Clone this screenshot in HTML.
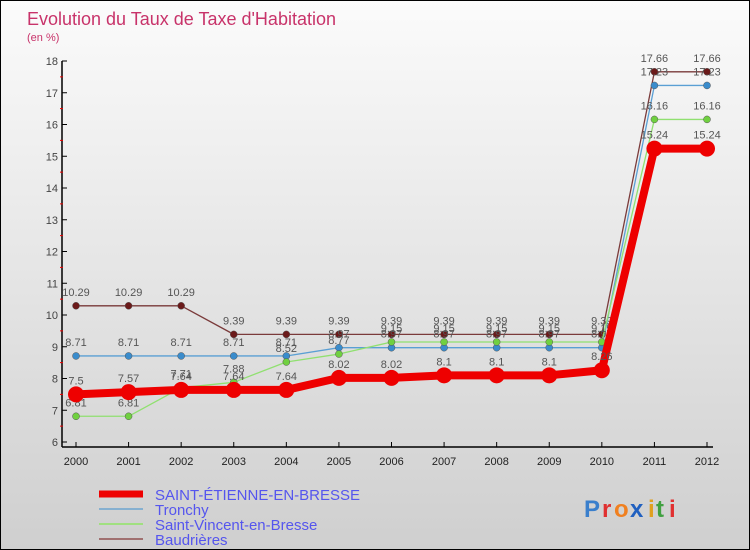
<!DOCTYPE html>
<html><head><meta charset="utf-8"><style>
body{margin:0}
#c{width:750px;height:550px;position:relative;overflow:hidden;box-sizing:border-box;border:1px solid #000;background:linear-gradient(#fbfbfb,#cfcfcf);font-family:"Liberation Sans",sans-serif}
</style></head><body>
<div id="c">
<svg id="s" width="750" height="550" style="position:absolute;left:0;top:0"></svg>
</div>
<script>
const years=["2000","2001","2002","2003","2004","2005","2006","2007","2008","2009","2010","2011","2012"];
const yTicks=[6,7,8,9,10,11,12,13,14,15,16,17,18];
const saint=[7.5,7.57,7.64,7.64,7.64,8.02,8.02,8.1,8.1,8.1,8.26,15.24,15.24];
const tronchy=[8.71,8.71,8.71,8.71,8.71,8.97,8.97,8.97,8.97,8.97,8.97,17.23,17.23];
const svincent=[6.81,6.81,7.71,7.88,8.52,8.77,9.15,9.15,9.15,9.15,9.15,16.16,16.16];
const baud=[10.29,10.29,10.29,9.39,9.39,9.39,9.39,9.39,9.39,9.39,9.39,17.66,17.66];
const s=document.getElementById('s');const NS='http://www.w3.org/2000/svg';
function X(i){return 75+i*(706-75)/(years.length-1);}
function Y(v){return 441-(v-6)*(441-60)/12;}
function el(t,a,p){const e=document.createElementNS(NS,t);for(const k in a)e.setAttribute(k,a[k]);(p||s).appendChild(e);return e;}
function tx(x,y,str,a,p){const e=el('text',Object.assign({x:x,y:y},a),p);e.textContent=str;return e;}
const t1=tx(26,24,"Evolution du Taux de Taxe d'Habitation",{fill:'#c8336a','font-size':18});


const t2=tx(26,40,"(en %)",{fill:'#c8336a','font-size':11});


const ax=el('g',{});


el('line',{x1:61,y1:60,x2:61,y2:446,stroke:'#000','stroke-width':1.5},ax);
el('line',{x1:61,y1:446,x2:712,y2:446,stroke:'#000','stroke-width':1.5},ax);
yTicks.forEach(v=>{el('line',{x1:61,y1:Y(v),x2:66,y2:Y(v),stroke:'#000'},ax);
if(v<18)el('line',{x1:59,y1:Y(v+0.5),x2:62,y2:Y(v+0.5),stroke:'#e00'},ax);
const t=tx(57,Y(v)+4,String(v),{fill:'#444','font-size':11,'text-anchor':'end'},ax);

});
years.forEach((y,i)=>{el('line',{x1:X(i),y1:441,x2:X(i),y2:446,stroke:'#000'},ax);
const t=tx(X(i),464,y,{fill:'#222','font-size':11,'text-anchor':'middle'},ax);

});
function series(d,col,w,r,fill,name){const g=el('g',{});


el('polyline',{points:d.map((v,i)=>X(i)+','+Y(v)).join(' '),fill:'none',stroke:col,'stroke-width':w,'stroke-linejoin':'round'},g);
d.forEach((v,i)=>{el('circle',{cx:X(i),cy:Y(v),r:r,fill:fill,stroke:r>5?'none':'#555','stroke-width':0.5},g);
tx(X(i),Y(v)-10,String(v),{fill:'#555','font-size':11,'text-anchor':'middle'},g);});}
series(baud,'#7a3a3a',1.3,3.5,'#6b1a1a','series-baudrieres');
series(tronchy,'#5a9fd4',1.3,3.5,'#3a8ccc','series-tronchy');
series(svincent,'#90e070',1.3,3.5,'#70d040','series-saint-vincent');
series(saint,'#ee0000',8,8,'#ee0000','series-saint-etienne');
const leg=[['SAINT-ÉTIENNE-EN-BRESSE','#ee0000',7],['Tronchy','#86b0d0',2],['Saint-Vincent-en-Bresse','#a0e080',2],['Baudrières','#a07070',2]];
leg.forEach((l,i)=>{const g=el('g',{});


const y=493+i*15;el('line',{x1:98,y1:y,x2:142,y2:y,stroke:l[1],'stroke-width':l[2]},g);
tx(154,y+6,l[0],{fill:'#5555ee','font-size':15},g);});
const lg=el('g',{});


const letters=['P','r','o','x','i','t','i'];
const cols=['#3a7fcc','#e03030','#f08020','#2060c0','#e0a020','#40a040','#e03030'];
const xs=[583,601,613,629,647,655,668];
letters.forEach((c,i)=>tx(xs[i],516,c,{fill:cols[i],'font-size':24,'font-weight':'bold'},lg));
</script>
</body></html>
